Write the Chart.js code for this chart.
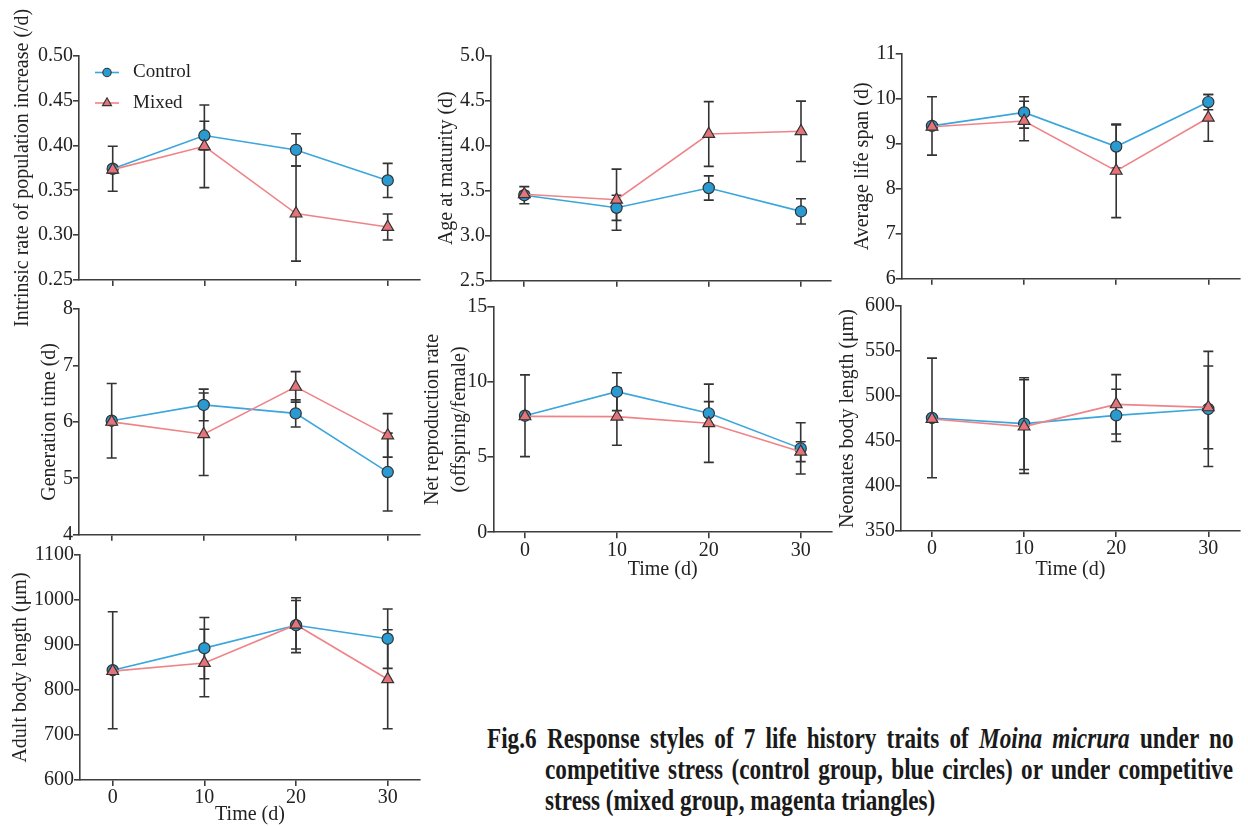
<!DOCTYPE html>
<html><head><meta charset="utf-8">
<script src="https://cdn.jsdelivr.net/npm/chart.js@4.4.1/dist/chart.umd.min.js"></script>
<style>
html,body{margin:0;padding:0;background:#fff;overflow:hidden;}
#wrap{position:relative;width:1248px;height:826px;overflow:hidden;}
#wrap canvas{position:absolute;}
.cap{position:absolute;font-family:"Liberation Serif","Times New Roman",serif;font-weight:bold;font-size:29px;line-height:29px;color:#1a1a1a;white-space:nowrap;transform-origin:0 0;transform:scaleX(0.8);}
.just{text-align:justify;text-align-last:justify;}
</style></head><body><div id="wrap"></div>
<script>
// ---------- data ----------
const times = [0, 10, 20, 30];
const xTickLabels = ['0', '10', '20', '30'];
const seriesNames = ['Control', 'Mixed'];

// Intrinsic rate of population increase (/d)
const rmControl = [0.374, 0.411, 0.395, 0.361];
const rmControlErr = [0.025, 0.016, 0.018, 0.019];
const rmMixed = [0.373, 0.399, 0.324, 0.309];
const rmMixedErr = [0.004, 0.046, 0.053, 0.0145];
const rmTicks = [0.25, 0.30, 0.35, 0.40, 0.45, 0.50];
const rmTickLabels = ['0.25', '0.30', '0.35', '0.40', '0.45', '0.50'];

// Age at maturity (d)
const ageControl = [3.45, 3.31, 3.53, 3.27];
const ageControlErr = [0.095, 0.14, 0.135, 0.14];
const ageMixed = [3.46, 3.40, 4.13, 4.16];
const ageMixedErr = [0.03, 0.34, 0.36, 0.335];
const ageTicks = [2.5, 3.0, 3.5, 4.0, 4.5, 5.0];
const ageTickLabels = ['2.5', '3.0', '3.5', '4.0', '4.5', '5.0'];

// Average life span (d)
const lifeControl = [9.40, 9.70, 8.94, 9.93];
const lifeControlErr = [0.65, 0.35, 0.48, 0.17];
const lifeMixed = [9.38, 9.51, 8.40, 9.58];
const lifeMixedErr = [0.05, 0.44, 1.04, 0.52];
const lifeTicks = [6, 7, 8, 9, 10, 11];
const lifeTickLabels = ['6', '7', '8', '9', '10', '11'];

// Generation time (d)
const genControl = [6.02, 6.30, 6.15, 5.11];
const genControlErr = [0.66, 0.28, 0.24, 0.69];
const genMixed = [6.00, 5.78, 6.62, 5.76];
const genMixedErr = [0.05, 0.73, 0.27, 0.385];
const genTicks = [4, 5, 6, 7, 8];
const genTickLabels = ['4', '5', '6', '7', '8'];

// Net reproduction rate (offspring/female)
const r0Control = [7.75, 9.35, 7.91, 5.58];
const r0ControlErr = [2.72, 1.26, 0.78, 1.70];
const r0Mixed = [7.71, 7.69, 7.25, 5.36];
const r0MixedErr = [0.10, 1.90, 2.60, 0.66];
const r0Ticks = [0, 5, 10, 15];
const r0TickLabels = ['0', '5', '10', '15'];

// Neonates body length (μm)
const neoControl = [475.6, 469.3, 478.5, 485.6];
const neoControlErr = [66.5, 51, 29, 64];
const neoMixed = [474.4, 466.0, 490.7, 487.4];
const neoMixedErr = [3, 52, 33, 46];
const neoTicks = [350, 400, 450, 500, 550, 600];
const neoTickLabels = ['350', '400', '450', '500', '550', '600'];

// Adult body length (μm)
const adultControl = [844, 893, 944, 914];
const adultControlErr = [130, 68, 61, 66];
const adultMixed = [842, 860, 945, 824];
const adultMixedErr = [5, 75, 54, 110];
const adultTicks = [600, 700, 800, 900, 1000, 1100];
const adultTickLabels = ['600', '700', '800', '900', '1000', '1100'];

// ---------- styles ----------
const FONT = '"Liberation Serif", "Times New Roman", serif';
const TEXT = '#222';
const AXIS = '#3d3d3d';
const ctrlLine = '#3aa6dc', ctrlFill = '#2a9bd2';
const mixLine = '#ef8488', mixFill = '#e5747a';
const markerStroke = '#333';

// panel placement (page px): canvas rect, plot area, x positions of t=0 and t=30
const panels = [
  {title: 'Intrinsic rate of population increase (/d)', c: rmControl, ce: rmControlErr, m: rmMixed, me: rmMixedErr, ticks: rmTicks, labels: rmTickLabels,
   cl: 0, ct: 0, cw: 430, ch: 340, L: 79, T: 55.7, R: 420, B: 280, x0: 112.7, x30: 387.7, tX: 23, xTitleY: null, legend: true},
  {title: 'Age at maturity (d)', c: ageControl, ce: ageControlErr, m: ageMixed, me: ageMixedErr, ticks: ageTicks, labels: ageTickLabels,
   cl: 430, ct: 0, cw: 410, ch: 300, L: 491, T: 55.7, R: 831, B: 280.7, x0: 524.3, x30: 801, tX: 446.6, xTitleY: null},
  {title: 'Average life span (d)', c: lifeControl, ce: lifeControlErr, m: lifeMixed, me: lifeMixedErr, ticks: lifeTicks, labels: lifeTickLabels,
   cl: 840, ct: 0, cw: 408, ch: 300, L: 901.7, T: 54, R: 1240, B: 278.7, x0: 932, x30: 1208.3, tX: 862.5, xTitleY: null},
  {title: 'Generation time (d)', c: genControl, ce: genControlErr, m: genMixed, me: genMixedErr, ticks: genTicks, labels: genTickLabels,
   cl: 0, ct: 290, cw: 430, ch: 260, L: 79, T: 309, R: 420, B: 534.7, x0: 111.7, x30: 387.7, tX: 50, xTitleY: null},
  {title: ['Net reproduction rate', '(offspring/female)'], c: r0Control, ce: r0ControlErr, m: r0Mixed, me: r0MixedErr, ticks: r0Ticks, labels: r0TickLabels,
   cl: 410, ct: 290, cw: 430, ch: 310, L: 493.3, T: 306.7, R: 832, B: 532.3, x0: 525, x30: 800.7, tX: 432.6, xTitleY: 570, lh: 1.37},
  {title: 'Neonates body length (μm)', c: neoControl, ce: neoControlErr, m: neoMixed, me: neoMixedErr, ticks: neoTicks, labels: neoTickLabels,
   cl: 830, ct: 290, cw: 418, ch: 310, L: 901, T: 306, R: 1240, B: 531, x0: 932, x30: 1208.3, tX: 848, xTitleY: 570},
  {title: 'Adult body length (μm)', c: adultControl, ce: adultControlErr, m: adultMixed, me: adultMixedErr, ticks: adultTicks, labels: adultTickLabels,
   cl: 0, ct: 540, cw: 430, ch: 300, L: 80, T: 555, R: 420, B: 780, x0: 112.7, x30: 387.7, tX: 21, xTitleY: 815}
];

function drawMarker(ctx, style, x, y, r, fill, stroke, bw) {
  ctx.beginPath();
  if (style === 'circle') {
    ctx.arc(x, y, r, 0, Math.PI * 2);
  } else {
    let a = 0;
    ctx.moveTo(x + Math.sin(a) * r, y - Math.cos(a) * r);
    a += Math.PI * 2 / 3; ctx.lineTo(x + Math.sin(a) * r, y - Math.cos(a) * r);
    a += Math.PI * 2 / 3; ctx.lineTo(x + Math.sin(a) * r, y - Math.cos(a) * r);
  }
  ctx.closePath();
  ctx.fillStyle = fill; ctx.fill();
  ctx.lineWidth = bw; ctx.strokeStyle = stroke; ctx.stroke();
}

const errorBars = {
  id: 'errorBars',
  beforeDatasetsDraw(chart) {
    const {ctx} = chart; const xs = chart.scales.x, ys = chart.scales.y;
    ctx.save();
    ctx.strokeStyle = '#333'; ctx.lineWidth = 1.6;
    chart.data.datasets.forEach(ds => {
      ds.data.forEach((p, i) => {
        const e = ds.errors[i];
        const px = xs.getPixelForValue(p.x);
        const top = ys.getPixelForValue(p.y + e), bot = ys.getPixelForValue(p.y - e);
        ctx.beginPath();
        ctx.moveTo(px, top); ctx.lineTo(px, bot);
        ctx.moveTo(px - 5, top); ctx.lineTo(px + 5, top);
        ctx.moveTo(px - 5, bot); ctx.lineTo(px + 5, bot);
        ctx.stroke();
      });
    });
    ctx.restore();
  }
};

const customLegend = {
  id: 'customLegend',
  afterDraw(chart, args, opts) {
    if (!opts.show) return;
    const {ctx} = chart;
    const items = [
      {name: seriesNames[0], line: ctrlLine, fill: ctrlFill, style: 'circle', r: 4.2, y: 72.5},
      {name: seriesNames[1], line: mixLine, fill: mixFill, style: 'triangle', r: 5.2, y: 103}
    ];
    ctx.save();
    items.forEach(it => {
      ctx.beginPath(); ctx.strokeStyle = it.line; ctx.lineWidth = 1.6;
      ctx.moveTo(95, it.y); ctx.lineTo(119, it.y); ctx.stroke();
      drawMarker(ctx, it.style, 107, it.y, it.r, it.fill, markerStroke, 1.1);
      ctx.fillStyle = TEXT; ctx.font = '19px ' + FONT;
      ctx.textAlign = 'left'; ctx.textBaseline = 'middle';
      ctx.fillText(it.name, 133, it.y);
    });
    ctx.restore();
  }
};

const wrap = document.getElementById('wrap');
panels.forEach(p => {
  const cv = document.createElement('canvas');
  cv.width = p.cw; cv.height = p.ch;
  cv.style.left = p.cl + 'px'; cv.style.top = p.ct + 'px';
  cv.style.width = p.cw + 'px'; cv.style.height = p.ch + 'px';
  wrap.appendChild(cv);

  const u = (p.x30 - p.x0) / 30;
  const xMin = (p.L - p.x0) / u, xMax = (p.R - p.x0) / u;
  const lh = p.lh || 1.2;
  const yW = p.L - p.cl;
  const tPad = p.tX - p.cl - 20 * lh / 2;
  const showX = p.xTitleY !== null;
  const xH = showX ? (p.xTitleY + 12 - p.B) : 10;

  new Chart(cv, {
    type: 'line',
    data: {
      datasets: [
        {label: seriesNames[1], data: times.map((t, i) => ({x: t, y: p.m[i]})), errors: p.me,
         borderColor: mixLine, borderWidth: 1.6, pointStyle: 'triangle', pointRadius: 6.8,
         pointBackgroundColor: mixFill, pointBorderColor: markerStroke, pointBorderWidth: 1.2, fill: false, tension: 0},
        {label: seriesNames[0], data: times.map((t, i) => ({x: t, y: p.c[i]})), errors: p.ce,
         borderColor: ctrlLine, borderWidth: 1.6, pointStyle: 'circle', pointRadius: 5.6,
         pointBackgroundColor: ctrlFill, pointBorderColor: markerStroke, pointBorderWidth: 1.2, fill: false, tension: 0}
      ]
    },
    options: {
      responsive: false, animation: false, events: [],
      layout: {padding: {left: 0, top: p.T - p.ct, right: p.cl + p.cw - p.R, bottom: p.ct + p.ch - p.B - xH}},
      plugins: {legend: {display: false}, tooltip: {enabled: false}, customLegend: {show: !!p.legend}},
      scales: {
        x: {
          type: 'linear', min: xMin, max: xMax,
          afterBuildTicks: s => { s.ticks = times.map(v => ({value: v})); },
          afterFit: s => { s.height = xH; },
          ticks: {display: showX, color: TEXT, font: {family: FONT, size: 20}, padding: 0, maxRotation: 0,
                  callback: (v, i) => xTickLabels[i]},
          grid: {drawOnChartArea: false, drawTicks: true, tickLength: 6, color: AXIS, lineWidth: 1.6},
          border: {display: true, color: AXIS, width: 1.6},
          title: {display: showX, text: 'Time (d)', color: TEXT, font: {family: FONT, size: 20}, padding: {top: 0, bottom: 0}}
        },
        y: {
          type: 'linear', min: p.ticks[0], max: p.ticks[p.ticks.length - 1],
          afterBuildTicks: s => { s.ticks = p.ticks.map(v => ({value: v})); },
          afterFit: s => { s.width = yW; },
          ticks: {color: TEXT, font: {family: FONT, size: 20}, padding: 0, callback: (v, i) => p.labels[i]},
          grid: {drawOnChartArea: false, drawTicks: true, tickLength: 6, color: AXIS, lineWidth: 1.6},
          border: {display: true, color: AXIS, width: 1.6},
          title: {display: true, text: p.title, color: TEXT, font: {family: FONT, size: 20, lineHeight: lh}, padding: {top: tPad, bottom: 0}}
        }
      }
    },
    plugins: [errorBars, customLegend]
  });
});

// caption
function capLine(html, left, baseline, width, justify) {
  const d = document.createElement('div');
  d.className = 'cap' + (justify ? ' just' : '');
  d.innerHTML = html;
  d.style.left = left + 'px';
  d.style.top = (baseline - 24.3) + 'px';
  if (width) { d.style.width = (width / 0.8) + 'px'; d.style.whiteSpace = 'normal'; }
  wrap.appendChild(d);
}
capLine('Fig.6', 487, 748, null, false);
capLine('Response styles of 7 life history traits of <i>Moina micrura</i> under no', 546.5, 748, 686.5, true);
capLine('competitive stress (control group, blue circles) or under competitive', 545, 779, 688, true);
capLine('stress (mixed group, magenta triangles)', 545, 810, null, false);
</script></body></html>
